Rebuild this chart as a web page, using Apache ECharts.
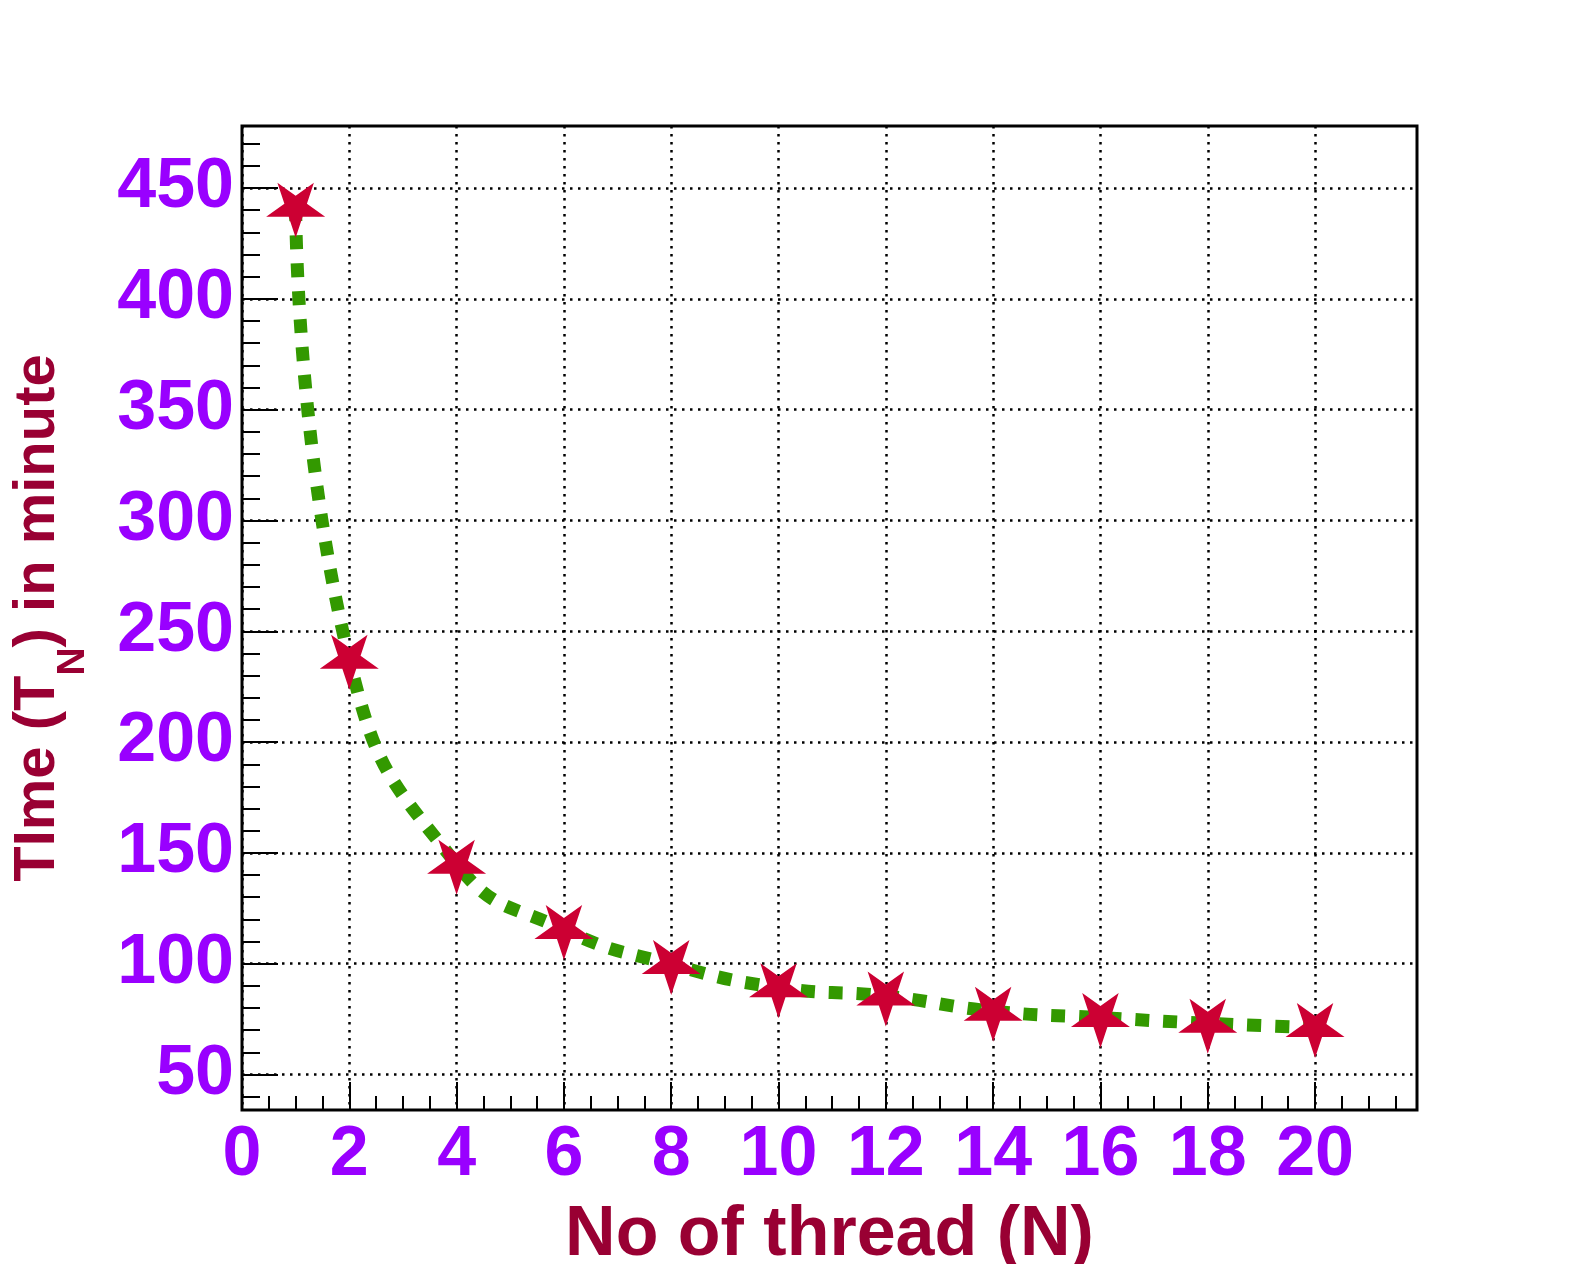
<!DOCTYPE html>
<html>
<head>
<meta charset="utf-8">
<script src="https://cdn.jsdelivr.net/npm/echarts@6/dist/echarts.min.js"></script>
<style>
  html, body { margin: 0; padding: 0; background: #fff; }
  #chart { width: 1575px; height: 1264px; }
</style>
</head>
<body>
<div id="chart"></div>
<script>
// threads vs run time
const threads = [1, 2, 4, 6, 8, 10, 12, 14, 16, 18, 20]
const timeMinutes = [441.3, 237.4, 144.9, 115.4, 99.7, 89.2, 85.4, 78.6, 75.7, 73.1, 71.2]

const xMajorTicks = [0, 2, 4, 6, 8, 10, 12, 14, 16, 18, 20]
const yMajorTicks = [50, 100, 150, 200, 250, 300, 350, 400, 450]

const X_MIN = 0
const X_MAX = 21.9
const Y_MIN = 34
const Y_MAX = 478

// minor ticks: x every 0.5, y every 10
const xMinorTicks = []
for (let i = 1; i * 0.5 < X_MAX; i++) {
  if (i % 4 !== 0) xMinorTicks.push(i * 0.5)
}
const yMinorTicks = []
for (let v = 40; v < Y_MAX; v += 10) {
  if (v % 50 !== 0) yMinorTicks.push(v)
}

const labelColor = '#9900ff'
const nameColor = '#990033'
const font = '"Liberation Sans", Arial, Helvetica, sans-serif'

// inverted five-point star (one tip down)
const starPath = 'path://M100,200L122.45,130.9L195.1,130.9L136.3,88.2L158.8,19.1L100,61.8L41.2,19.1L63.7,88.2L4.9,130.9L77.55,130.9Z'

const chart = echarts.init(document.getElementById('chart'), null, { renderer: 'canvas' })

chart.setOption({
  backgroundColor: '#fff',
  animation: false,
  grid: {
    left: 242,
    top: 126,
    width: 1175,
    height: 984,
    outerBoundsMode: 'none',
    containLabel: false,
    show: true,
    borderColor: '#000',
    borderWidth: 3,
    backgroundColor: 'transparent'
  },
  xAxis: [
    {
      type: 'value',
      min: X_MIN,
      max: X_MAX,
      position: 'bottom',
      axisLine: { show: false },
      axisTick: {
        show: true,
        inside: true,
        length: 28,
        customValues: xMajorTicks,
        lineStyle: { color: '#000', width: 2 }
      },
      axisLabel: {
        customValues: xMajorTicks,
        margin: 11,
        color: labelColor,
        fontFamily: font,
        fontWeight: 'bold',
        fontSize: 70
      },
      splitLine: {
        show: true,
        lineStyle: { color: '#000', width: 2.5, type: [2.5, 5.5] }
      },
      name: 'No of thread (N)',
      nameLocation: 'middle',
      nameGap: 91,
      nameTextStyle: {
        color: nameColor,
        fontFamily: font,
        fontWeight: 'bold',
        fontSize: 70
      }
    },
    {
      type: 'value',
      min: X_MIN,
      max: X_MAX,
      position: 'bottom',
      axisLine: { show: false },
      axisTick: {
        show: true,
        inside: true,
        length: 14,
        customValues: xMinorTicks,
        lineStyle: { color: '#000', width: 2 }
      },
      axisLabel: { show: false },
      splitLine: { show: false }
    }
  ],
  yAxis: [
    {
      type: 'value',
      min: Y_MIN,
      max: Y_MAX,
      position: 'left',
      axisLine: { show: false },
      axisTick: {
        show: true,
        inside: true,
        length: 36,
        customValues: yMajorTicks,
        lineStyle: { color: '#000', width: 2 }
      },
      axisLabel: {
        customValues: yMajorTicks,
        margin: 8,
        color: labelColor,
        fontFamily: font,
        fontWeight: 'bold',
        fontSize: 70
      },
      splitLine: {
        show: true,
        lineStyle: { color: '#000', width: 2.5, type: [2.5, 5.5] }
      },
      name: '{m|TIme (T}{sub|N}{m|) in minute}',
      nameLocation: 'middle',
      nameRotate: 90,
      nameGap: 175,
      nameTextStyle: {
        color: nameColor,
        fontFamily: font,
        fontWeight: 'bold',
        fontSize: 58,
        rich: {
          m: {
            color: nameColor,
            fontFamily: font,
            fontWeight: 'bold',
            fontSize: 58,
            lineHeight: 58,
            verticalAlign: 'top'
          },
          sub: {
            color: nameColor,
            fontFamily: font,
            fontWeight: 'bold',
            fontSize: 39,
            lineHeight: 39,
            padding: [45, 0, 0, 0],
            verticalAlign: 'top'
          }
        }
      }
    },
    {
      type: 'value',
      min: Y_MIN,
      max: Y_MAX,
      position: 'left',
      axisLine: { show: false },
      axisTick: {
        show: true,
        inside: true,
        length: 18,
        customValues: yMinorTicks,
        lineStyle: { color: '#000', width: 2 }
      },
      axisLabel: { show: false },
      splitLine: { show: false }
    }
  ],
  series: [
    {
      type: 'line',
      xAxisIndex: 0,
      yAxisIndex: 0,
      data: threads.map((n, i) => [n, timeMinutes[i]]),
      smooth: 0.5,
      lineStyle: { color: '#339900', width: 13, type: [14, 14], cap: 'butt' },
      symbol: starPath,
      symbolSize: [59, 55],
      symbolOffset: [0, 3],
      itemStyle: { color: '#cc0033', borderWidth: 0 },
      z: 5
    }
  ]
})
</script>
</body>
</html>
